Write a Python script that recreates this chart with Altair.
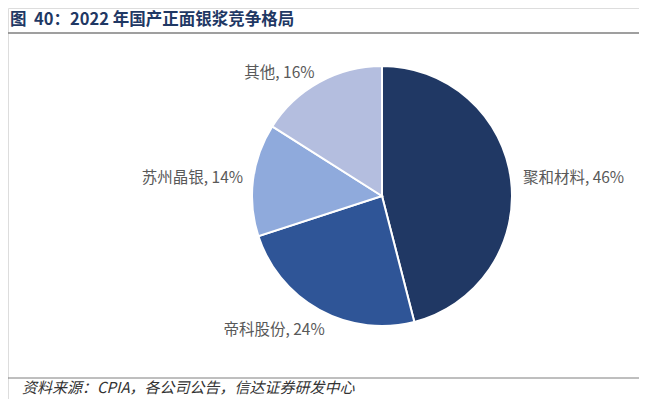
import altair as alt
import pandas as pd

companies = ["聚和材料", "帝科股份", "苏州晶银", "其他"]
shares = [46, 24, 14, 16]
colors = ["#203864", "#2F5597", "#8FAADC", "#B4BEDF"]

title_text = "图\u00a0\u00a040：2022 年国产正面银浆竞争格局"
source_text = "资料来源：CPIA，各公司公告，信达证券研发中心"

df = pd.DataFrame({
    "company": companies,
    "share": shares,
    "order": list(range(len(companies))),
})
df["label"] = [f"{c}, {s}%" for c, s in zip(companies, shares)]

CX, CY = 374, 188
FONT = "Noto Sans CJK SC"
TWO_PI = 6.283185307

pie = alt.Chart(df).mark_arc(outerRadius=130, stroke="white", strokeWidth=2).encode(
    theta=alt.Theta("share:Q", stack=True),
    order=alt.Order("order:Q"),
    x=alt.value(CX), y=alt.value(CY),
    color=alt.Color("company:N", scale=alt.Scale(domain=companies, range=colors), legend=None),
)

lab_base = alt.Chart(df).transform_window(
    cum="sum(share)", sort=[alt.SortField("order")]
).transform_calculate(
    mid="datum.cum - datum.share / 2"
).encode(
    theta=alt.Theta("mid:Q", scale=alt.Scale(domain=[0, 100], range=[0, TWO_PI])),
    x=alt.value(CX), y=alt.value(CY),
    text="label:N",
)

txt_kw = dict(font=FONT, fontSize=15.5, color="#595959", baseline="middle")

lab_left = lab_base.mark_text(radius=142, align="left", **txt_kw).transform_filter(
    alt.datum.company == "聚和材料")
lab_right = lab_base.mark_text(radius=140, align="right", **txt_kw).transform_filter(
    (alt.datum.company == "苏州晶银") | (alt.datum.company == "其他"))
lab_bottom = lab_base.mark_text(radius=148, align="right", dx=14, dy=4, **txt_kw).transform_filter(
    alt.datum.company == "帝科股份")

tdf = pd.DataFrame({"t": [title_text]})
title = alt.Chart(tdf).mark_text(
    font=FONT, fontSize=16.5, fontWeight="bold", color="#1F3864", align="left", baseline="middle"
).encode(x=alt.value(2), y=alt.value(12), text="t:N")

top_rule = alt.Chart(tdf).mark_rule(color="#7F7F7F", strokeWidth=1.5).encode(
    x=alt.value(0), x2=alt.value(631), y=alt.value(25)
)
bot_rule = alt.Chart(tdf).mark_rule(color="#7F7F7F", strokeWidth=1).encode(
    x=alt.value(0), x2=alt.value(631), y=alt.value(370)
)
sdf = pd.DataFrame({"t": [source_text]})
source = alt.Chart(sdf).mark_text(
    font=FONT, fontSize=15, fontStyle="italic", color="#333333", align="left", baseline="middle"
).encode(x=alt.value(14), y=alt.value(380), text="t:N")

chart = alt.layer(pie, lab_left, lab_right, lab_bottom, title, top_rule, bot_rule, source).properties(
    width=631, height=391, autosize=alt.AutoSizeParams(type="none"), padding=0
).configure_view(stroke=None).configure(background="white")

chart.save("out.html", embed_options={"renderer": "svg", "actions": False})
